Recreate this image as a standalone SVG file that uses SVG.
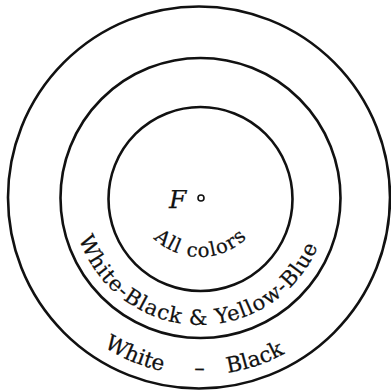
<svg xmlns="http://www.w3.org/2000/svg" xmlns:xlink="http://www.w3.org/1999/xlink" width="391" height="391" viewBox="0 0 391 391">
  <style>
    .ring { fill: none; stroke: #111; stroke-width: 2.6; }
    .lbl { font-family: "DejaVu Serif", "Liberation Serif", serif; fill: #111; stroke: #111; stroke-width: 0.25; }
  </style>
  <defs>
    <path id="arcInner" d="M153.5,238.2 A67,67 0 0 0 246.9,237.9"/>
    <path id="arcMid" d="M79,238.7 A128,128 0 0 0 317.8,247"/>
    <path id="arcOuter" d="M103.8,346.8 A178,178 0 0 0 284.4,353.7"/>
  </defs>
  <rect width="391" height="391" fill="#fff"/>
  <g id="rings">
    <circle id="outer" class="ring" cx="199" cy="197.5" r="191"/>
    <circle id="middle" class="ring" cx="200.5" cy="198" r="140"/>
    <circle id="inner" class="ring" cx="200.5" cy="199" r="92"/>
  </g>
  <g id="focus">
    <text class="lbl" x="169" y="207.5" font-size="25" font-style="italic">F</text>
    <circle cx="201" cy="198" r="3" fill="none" stroke="#111" stroke-width="1.6"/>
  </g>
  <g id="labels">
    <text class="lbl" font-size="19.5"><textPath xlink:href="#arcInner" href="#arcInner" textLength="103" lengthAdjust="spacing">All colors</textPath></text>
    <text class="lbl" font-size="21"><textPath xlink:href="#arcMid" href="#arcMid" textLength="308" lengthAdjust="spacing">White-Black &amp; Yellow-Blue</textPath></text>
    <text class="lbl" font-size="21.5"><textPath xlink:href="#arcOuter" href="#arcOuter" textLength="64" lengthAdjust="spacing">White</textPath></text>
    <text class="lbl" font-size="21" text-anchor="middle"><textPath xlink:href="#arcOuter" href="#arcOuter" startOffset="101">–</textPath></text>
    <text class="lbl" font-size="21.5" text-anchor="end"><textPath xlink:href="#arcOuter" href="#arcOuter" startOffset="190">Black</textPath></text>
  </g>
</svg>
